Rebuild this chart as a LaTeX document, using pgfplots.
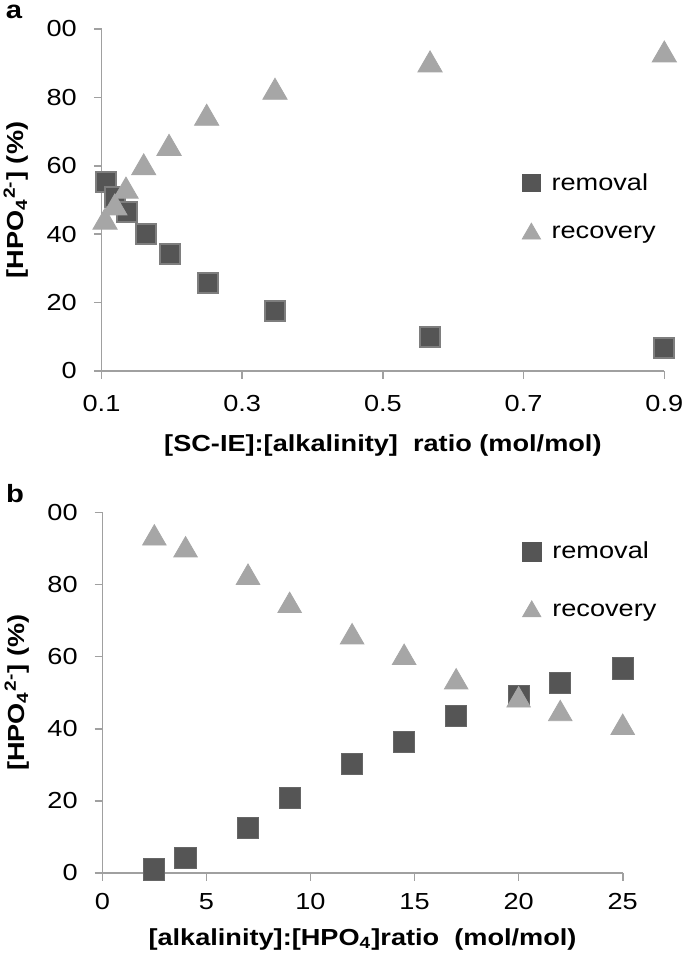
\documentclass[border=0pt]{standalone}
\usepackage{graphicx}
\usepackage{fontspec}
\setmainfont{Liberation Sans}
\usepackage{pgfplots}
\pgfplotsset{compat=1.18}
\definecolor{axisgray}{HTML}{A0A0A0}
\definecolor{remfill}{HTML}{555555}
\definecolor{remdrawA}{HTML}{7E7E7E}
\definecolor{remdrawB}{HTML}{666666}
\definecolor{recfill}{HTML}{A6A6A6}
\newcommand{\sx}[1]{\scalebox{1.17}[1]{#1}}
\newcommand{\tf}{\fontsize{11.6}{13}\selectfont}
\pgfplotsset{
  common/.style={
    set layers, clip=false,
    scale only axis,
    axis x line*=bottom, axis y line*=left,
    axis line style={draw=axisgray, line width=0.8pt},
    tick align=outside, major tick length=3.8pt,
    tick style={draw=axisgray, line width=0.8pt},
    every tick label/.append style={font=\tf, text=black},
    yticklabel style={anchor=east, xshift=-5pt},
    legend cell align=left,
    legend image code/.code={\draw[##1] plot coordinates {(0pt,0pt)};},
  }
}
\begin{document}
\begin{tikzpicture}
% ---------------- panel a ----------------
\begin{axis}[common,
  at={(50.75pt,-185.5pt)}, anchor=south west,
  width=281.4pt, height=171pt,
  xmin=0.1, xmax=0.9, ymin=0, ymax=100,
  xtick={0.1,0.3,0.5,0.7,0.9},
  xticklabels={\sx{0.1},\sx{0.3},\sx{0.5},\sx{0.7},\sx{0.9}},
  xticklabel style={anchor=base, yshift=-16.5pt},
  ytick={0,20,40,60,80,100},
  yticklabels={\sx{0},\sx{20},\sx{40},\sx{60},\sx{80},\sx{00}},
  xlabel={\sx{[SC-IE]:[alkalinity]\ \ ratio (mol/mol)}},
  xlabel style={font=\tf\bfseries, at={(axis description cs:0.5,-0.2368)}, anchor=base},
  ylabel={\sx{[HPO\textsubscript{4}\textsuperscript{2-}] (\%)}},
  ylabel style={font=\tf\bfseries, at={(axis description cs:-0.1519,0.5)}, anchor=center, rotate=0},
  legend style={at={(axis description cs:0.7468,0.579)}, anchor=north west,
    draw=none, fill=none, inner sep=0pt, row sep=15pt, column sep=5.5pt,
    nodes={inner sep=0pt}, font=\tf},
]
\addplot[forget plot, only marks, mark=square*, mark size=5pt,
  mark options={fill=remfill, draw=remdrawA, line width=1pt}] coordinates {
  (0.1064,55.4) (0.119,51.0) (0.1358,46.6) (0.1628,40.0) (0.1974,34.1)
  (0.251,25.8) (0.347,17.5) (0.567,10.0) (0.9,6.8)};
\addplot[forget plot, only marks, mark=triangle*, mark size=7pt,
  mark options={fill=recfill, draw=recfill, line width=0.4pt}] coordinates {
  (0.105,43.5) (0.119,47.7) (0.1348,52.6) (0.160,59.4) (0.196,65.1)
  (0.2495,73.9) (0.3466,81.5) (0.567,89.5) (0.9,92.4)};
\addlegendimage{only marks, mark=square*, mark size=4.3pt, mark options={fill=remfill, draw=remfill, line width=0.4pt}}
\addlegendimage{only marks, mark=triangle*, mark size=5.3pt, mark options={fill=recfill, draw=recfill, line width=0.4pt}}
\legend{\sx{removal},\sx{recovery}}
\node[font=\fontsize{12.5}{14}\selectfont\bfseries] at (axis description cs:-0.1555,1.0497) {\sx{a}};
\end{axis}
% ---------------- panel b ----------------
\begin{axis}[common,
  at={(51.15pt,-436.5pt)}, anchor=south west,
  width=260.2pt, height=180.35pt,
  xmin=0, xmax=25, ymin=0, ymax=100,
  xtick={0,5,10,15,20,25},
  xticklabels={\sx{0},\sx{5},\sx{10},\sx{15},\sx{20},\sx{25}},
  xticklabel style={anchor=base, yshift=-14.5pt},
  ytick={0,20,40,60,80,100},
  yticklabels={\sx{0},\sx{20},\sx{40},\sx{60},\sx{80},\sx{00}},
  xlabel={\sx{[alkalinity]:[HPO\textsubscript{4}]ratio\ \ (mol/mol)}},
  xlabel style={font=\tf\bfseries, at={(axis description cs:0.5,-0.1996)}, anchor=base},
  ylabel={\sx{[HPO\textsubscript{4}\textsuperscript{2-}] (\%)}},
  ylabel style={font=\tf\bfseries, at={(axis description cs:-0.1639,0.5)}, anchor=center, rotate=0},
  legend style={at={(axis description cs:0.806,0.9185)}, anchor=north west,
    draw=none, fill=none, inner sep=0pt, row sep=19.5pt, column sep=5.5pt,
    nodes={inner sep=0pt}, font=\tf},
]
\addplot[forget plot, only marks, mark=square*, mark size=5.3pt,
  mark options={fill=remfill, draw=remdrawB, line width=0.5pt}] coordinates {
  (2.5,1.0) (4,4.1) (7,12.4) (9,20.7) (12,30.3) (14.5,36.3)
  (17,43.6) (20,49.0) (22,52.7) (25,56.7)};
\addplot[forget plot, only marks, mark=triangle*, mark size=6.8pt,
  mark options={fill=recfill, draw=recfill, line width=0.4pt}] coordinates {
  (2.5,92.8) (4,89.5) (7,81.9) (9,74.1) (12,65.4) (14.5,59.7)
  (17,52.9) (20,47.9) (22,44.1) (25,40.3)};
\addlegendimage{only marks, mark=square*, mark size=4.8pt, mark options={fill=remfill, draw=remfill, line width=0.4pt}}
\addlegendimage{only marks, mark=triangle*, mark size=5.3pt, mark options={fill=recfill, draw=recfill, line width=0.4pt}}
\legend{\sx{removal},\sx{recovery}}
\node[font=\fontsize{12.5}{14}\selectfont\bfseries] at (axis description cs:-0.1678,1.0507) {\sx{b}};
\end{axis}
\pgfresetboundingbox
\useasboundingbox (0pt,0pt) rectangle (342.5pt,-480.5pt);
\end{tikzpicture}
\end{document}
